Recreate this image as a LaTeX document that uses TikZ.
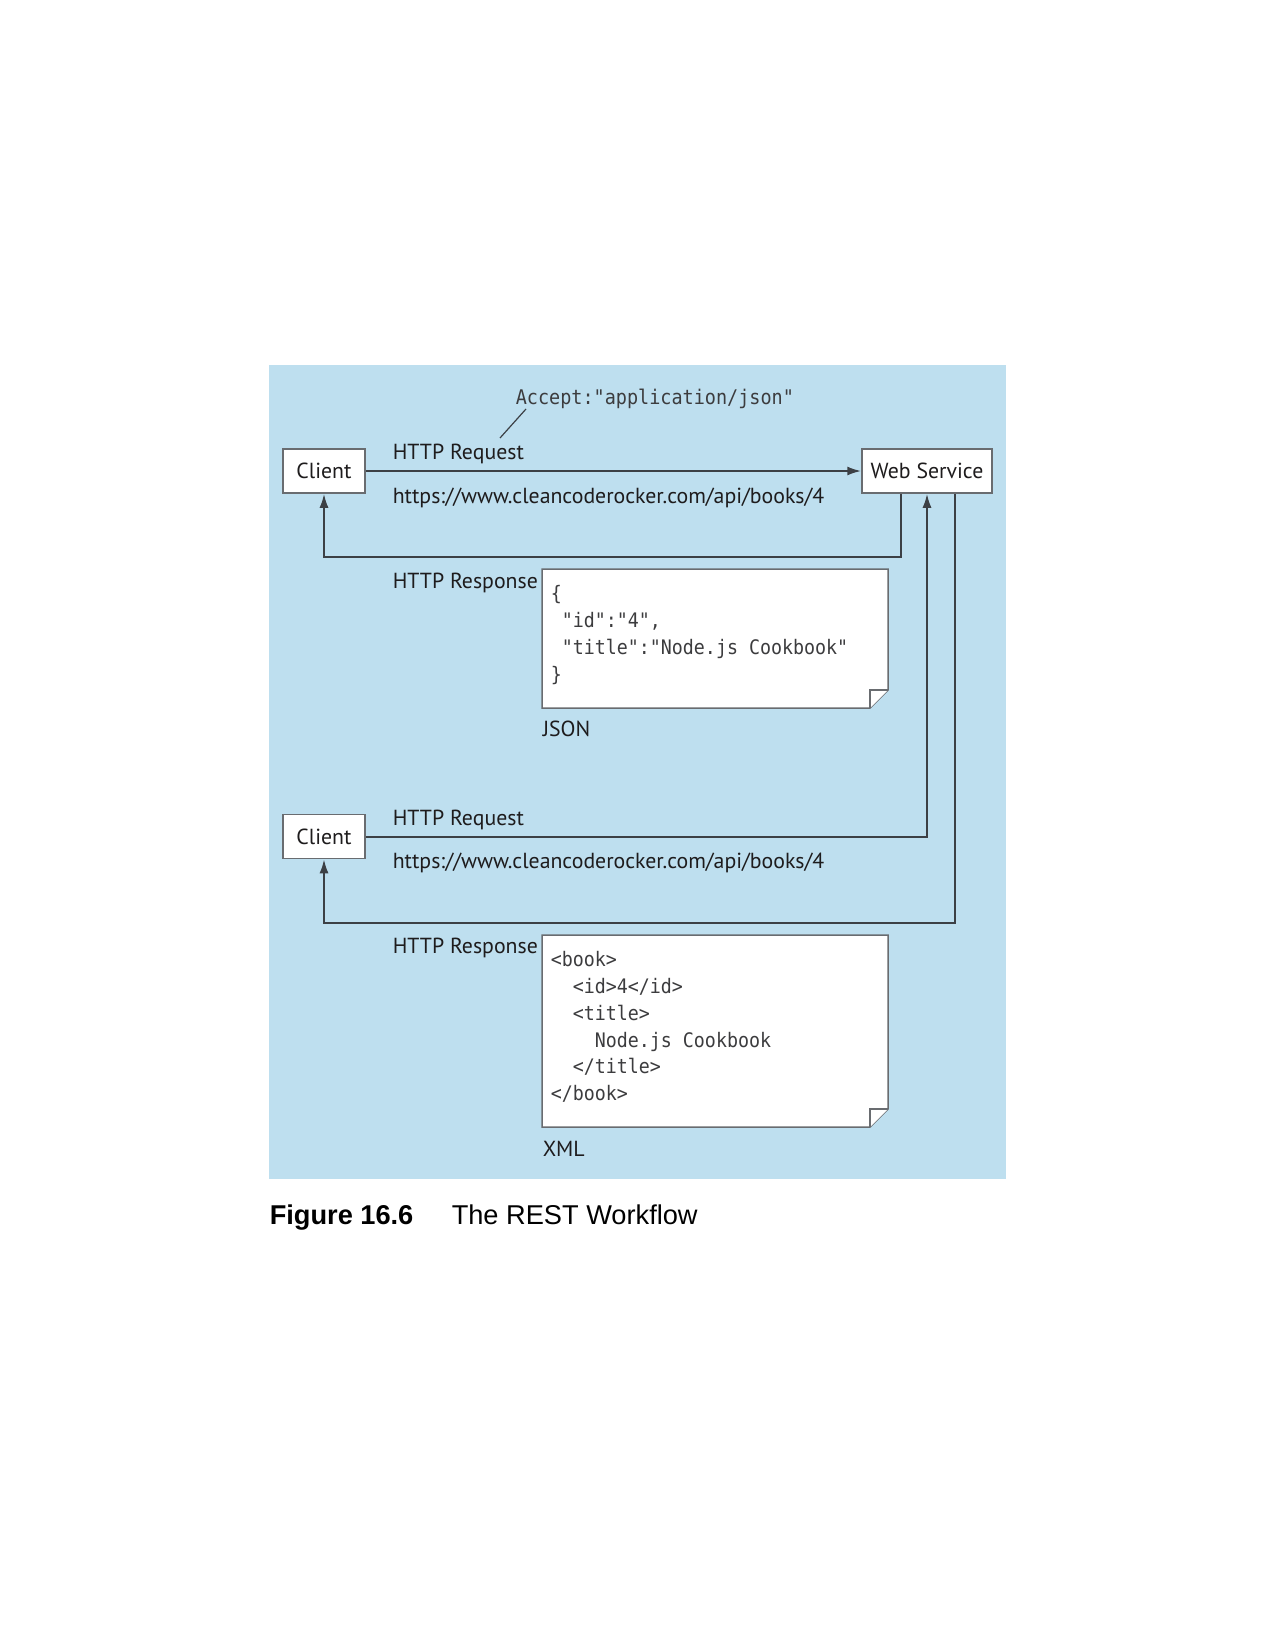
\documentclass[tikz,border=0pt]{standalone}
\usepackage{fontspec}
\setmainfont{PT Sans}
\newfontfamily\codefont[FakeStretch=0.915]{DejaVu Sans Mono}
\newfontfamily\capfont{Liberation Sans}
\usetikzlibrary{arrows.meta,calc}

\definecolor{panelblue}{RGB}{190,223,239}
\definecolor{linegray}{RGB}{60,64,69}
\definecolor{boxgray}{RGB}{105,108,112}
\definecolor{inkgray}{RGB}{30,28,29}
\definecolor{codegray}{RGB}{60,60,62}

\tikzset{every picture/.style={line width=0.75pt}}
\tikzset{
  hostbox/.style={draw=boxgray, fill=white, line width=0.75pt, minimum height=22pt, inner sep=0pt, text=inkgray, font=\fontsize{10.9pt}{13pt}\selectfont},
  msglabel/.style={anchor=base west, inner sep=0pt, text=inkgray, font=\fontsize{10.9pt}{13pt}\selectfont},
  codetext/.style={anchor=north west, inner sep=0pt, align=left, text=codegray, font=\codefont\fontsize{10pt}{13.35pt}\selectfont},
  docline/.style={draw=boxgray, fill=white, line width=0.75pt, line join=miter},
  flow/.style={draw=linegray, line width=1pt, -{Latex[length=7pt,width=4.5pt]}},
  callout/.style={draw=linegray, line width=0.6pt},
}

\begin{document}
\begin{tikzpicture}[x=0.5pt,y=0.5pt,yscale=-1,xscale=1]
\useasboundingbox (0,0) rectangle (1275,1649);

%Shape: Rectangle [panel]
\fill [panelblue] (269,365) rectangle (1006,1179);

% Host boxes
\node [hostbox, minimum width=41pt] (client1) at (324,471) {Client};
\node [hostbox, minimum width=65pt] (websvc) at (927,471) {Web Service};
\node [hostbox, minimum width=41pt] (client2) at (324,836.5) {Client};

% Text Node
\node [codetext, anchor=base west, font=\codefont\fontsize{10.1pt}{12pt}\selectfont] (accept) at (515,404) {Accept:"application/json"};
\coordinate (calloutA) at (500,438);
\coordinate (calloutB) at (526,409);
\draw [callout] (calloutA) -- (calloutB);

% Text Node
\node [msglabel] (req1) at (392,459) {HTTP Request};
% Text Node
\node [msglabel] (url1) at (392,503) {https://www.cleancoderocker.com/api/books/4};
% Text Node
\node [msglabel] (resp1) at (392,588) {HTTP Response};
% Text Node
\node [msglabel] (req2) at (392,825) {HTTP Request};
% Text Node
\node [msglabel] (url2) at (392,868) {https://www.cleancoderocker.com/api/books/4};
% Text Node
\node [msglabel] (resp2) at (392,953) {HTTP Response};

%Shape: JSON page
\draw [docline] (542,569) -- (888,569) -- (888,690) -- (870,708) -- (542,708) -- cycle;
\draw [docline] (870,708) -- (870,690) -- (888,690);
\node [codetext] (jsoncode) at (550,585) {\{\\\ "id":"4",\\\ "title":"Node.js Cookbook"\\\}};
\node [msglabel] (jsonlbl) at (542,736) {JSON};

%Shape: XML page
\draw [docline] (542,935) -- (888,935) -- (888,1109) -- (870,1127) -- (542,1127) -- cycle;
\draw [docline] (870,1127) -- (870,1109) -- (888,1109);
\node [codetext] (xmlcode) at (550,951) {<book>\\\ \ <id>4</id>\\\ \ <title>\\\ \ \ \ Node.js Cookbook\\\ \ </title>\\</book>};
\node [msglabel] (xmllbl) at (542,1156) {XML};

% Connectors
\draw [flow] (client1.east) -- (websvc.west);
\draw [flow] ($(websvc.south)+(-26,0)$) -- ++(0,63) -| (client1.south);
\draw [flow] (client2.east) -| (websvc.south);
\draw [flow] ($(websvc.south)+(28,0)$) -- ++(0,429) -| (client2.south);

% Caption
\node [anchor=base west, inner sep=0pt, font=\capfont\bfseries\fontsize{13.6pt}{16pt}\selectfont] (fignum) at (269,1224) {Figure 16.6};
\node [anchor=base west, inner sep=0pt, font=\capfont\fontsize{13.6pt}{16pt}\selectfont] (figtitle) at (451,1224) {The REST Workflow};

\end{tikzpicture}
\end{document}
